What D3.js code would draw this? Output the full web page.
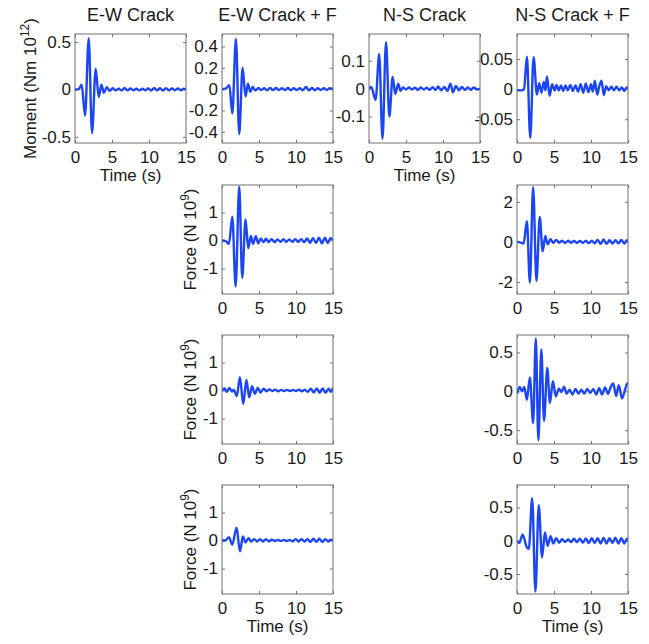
<!DOCTYPE html>
<html>
<head>
<meta charset="utf-8">
<script src="https://cdn.jsdelivr.net/npm/d3@7"></script>
<style>
  body { margin: 0; background: #fff; }
  text { font-family: "Liberation Sans", Arial, sans-serif; fill: #1a1a1a; }
</style>
</head>
<body>
<div id="chart"></div>
<script>
// x axis is the same everywhere
var timeTicks = [0, 5, 10, 15];

// column titles (top row only)
var titles = ["E-W Crack", "E-W Crack + F", "N-S Crack", "N-S Crack + F"];

// y tick labels per panel
var ewMomentTicks = [-0.5, 0, 0.5];
var ewFMomentTicks = [-0.4, -0.2, 0, 0.2, 0.4];
var nsMomentTicks = [-0.1, 0, 0.1];
var nsFMomentTicks = [-0.05, 0, 0.05];
var ewForceTicks = [-1, 0, 1];
var nsForce1Ticks = [-2, 0, 2];
var nsForceTicks = [-0.5, 0, 0.5];

// y limits per panel
var ewMomentLim = [-0.565, 0.585];
var ewFMomentLim = [-0.505, 0.517];
var nsMomentLim = [-0.195, 0.196];
var nsFMomentLim = [-0.0895, 0.0916];
var ewForceLim = [-1.91, 1.98];
var nsForce1Lim = [-2.6, 2.84];
var nsForce2Lim = [-0.678, 0.725];
var nsForce3Lim = [-0.80, 0.838];

// traces: [time (s), value] read at the turning points
var ewMoment = [[0,0],[0.5,0.003],[0.9,0.05],[1.36,-0.275],[1.85,0.54],[2.3,-0.46],[2.8,0.22],[3.2,-0.08],[3.57,0.05],[3.9,-0.035],[4.3,0.025],[4.7,-0.015],[5.1,0.012],[5.5,-0.01],[5.9,0.008],[6.3,-0.01],[6.7,0.015],[7.1,-0.01],[7.5,0.01],[7.9,-0.008],[8.3,0.008],[8.7,-0.01],[9.1,0.008],[9.5,-0.008],[9.9,0.01],[10.3,-0.012],[10.7,0.015],[11.1,-0.01],[11.5,0.012],[11.9,-0.012],[12.3,0.014],[12.7,-0.01],[13.1,0.01],[13.5,-0.008],[13.9,0.01],[14.3,-0.008],[14.7,0.008],[15,0]];

var ewFMoment = [[0,0],[0.5,0.005],[1.0,0.037],[1.39,-0.23],[1.88,0.47],[2.33,-0.42],[2.78,0.2],[3.18,-0.07],[3.5,0.05],[3.82,-0.025],[4.15,0.02],[4.5,-0.012],[4.9,0.01],[5.3,-0.008],[5.7,0.008],[6.1,-0.01],[6.5,0.01],[6.9,-0.008],[7.3,0.01],[7.7,-0.008],[8.1,0.008],[8.5,-0.008],[8.9,0.01],[9.3,-0.01],[9.7,0.008],[10.1,-0.008],[10.5,0.008],[10.9,-0.01],[11.35,0.02],[11.75,-0.012],[12.15,0.01],[12.55,-0.01],[12.95,0.008],[13.35,-0.008],[13.75,0.008],[14.15,-0.008],[14.55,0.008],[15,0]];

var nsMoment = [[0,0],[0.3,0.006],[0.89,-0.04],[1.38,0.124],[1.82,-0.18],[2.3,0.167],[2.75,-0.1],[3.2,0.042],[3.55,-0.019],[3.95,0.018],[4.25,-0.008],[4.6,0.004],[5.0,-0.003],[5.4,0.004],[5.8,-0.003],[6.2,0.003],[6.6,-0.004],[7.0,0.004],[7.4,-0.003],[7.8,0.003],[8.2,-0.004],[8.6,0.005],[9.0,-0.005],[9.35,0.008],[9.75,-0.006],[10.2,0.006],[10.6,-0.008],[11.0,0.018],[11.35,-0.013],[11.75,0.01],[12.15,-0.006],[12.55,0.006],[12.95,-0.004],[13.35,0.004],[13.75,-0.004],[14.15,0.004],[14.6,-0.003],[15,0]];

var nsFMoment = [[0,-0.002],[0.6,-0.002],[0.95,0],[1.34,0.054],[1.79,-0.081],[2.24,0.053],[2.69,-0.009],[3.0,0.01],[3.3,-0.006],[3.62,0.012],[3.85,-0.002],[4.05,0.021],[4.4,-0.011],[4.75,0.008],[5.1,-0.002],[5.35,0.007],[5.65,-0.002],[5.95,0.006],[6.25,-0.003],[6.55,0.006],[6.85,-0.002],[7.2,0.007],[7.55,-0.003],[7.9,0.006],[8.25,-0.004],[8.6,0.008],[8.95,-0.006],[9.3,0.009],[9.65,-0.005],[10.0,0.008],[10.25,-0.004],[10.52,0.014],[10.84,-0.009],[11.1,0.004],[11.42,0.014],[11.73,-0.01],[12.05,0.005],[12.4,-0.002],[12.75,0.004],[13.1,-0.002],[13.45,0.004],[13.8,-0.002],[14.15,0.003],[14.5,-0.003],[14.8,0.003],[15,0.001]];

var ewForce1 = [[0,0],[0.5,-0.02],[0.94,-0.12],[1.39,0.85],[1.84,-1.64],[2.33,1.92],[2.73,-1.33],[3.18,0.75],[3.54,-0.28],[3.9,0.16],[4.2,-0.12],[4.57,0.15],[4.9,-0.1],[5.25,0.07],[5.6,-0.06],[5.95,0.06],[6.3,-0.06],[6.7,0.05],[7.1,-0.06],[7.5,0.04],[7.9,-0.05],[8.3,0.05],[8.7,-0.05],[9.1,0.04],[9.5,-0.05],[9.9,0.05],[10.3,-0.05],[10.7,0.05],[11.1,-0.06],[11.5,0.07],[11.9,-0.08],[12.3,0.08],[12.7,-0.09],[13.1,0.1],[13.5,-0.1],[13.9,0.1],[14.3,-0.09],[14.65,0.08],[15,0.02]];

var nsForce1 = [[0,0],[0.4,-0.02],[0.89,-0.08],[1.34,1.03],[1.74,-2.03],[2.18,2.73],[2.63,-1.95],[3.07,1.24],[3.47,-0.46],[3.83,0.3],[4.14,-0.12],[4.54,0.14],[4.9,-0.05],[5.3,0.1],[5.7,-0.04],[6.1,0.06],[6.5,-0.05],[6.9,0.06],[7.3,-0.04],[7.7,0.05],[8.1,-0.05],[8.5,0.05],[8.9,-0.05],[9.3,0.06],[9.7,-0.06],[10.1,0.06],[10.5,-0.07],[10.9,0.1],[11.3,-0.1],[11.7,0.12],[12.1,-0.1],[12.5,0.08],[12.9,-0.08],[13.3,0.08],[13.7,-0.07],[14.1,0.1],[14.5,-0.08],[14.85,0.08],[15,0.04]];

var ewForce2 = [[0,0],[0.36,0.07],[0.67,-0.05],[0.99,0.09],[1.35,-0.04],[1.6,0.02],[2.0,-0.2],[2.42,0.47],[2.87,-0.48],[3.3,0.38],[3.67,-0.24],[4.07,0.15],[4.43,-0.12],[4.84,0.09],[5.2,-0.07],[5.64,0.06],[6.0,-0.03],[6.4,0.04],[6.8,-0.02],[7.2,0.03],[7.6,-0.03],[8.0,0.02],[8.4,-0.02],[8.8,0.02],[9.2,-0.02],[9.6,0.02],[10.0,-0.02],[10.4,0.03],[10.8,-0.03],[11.2,0.03],[11.6,-0.05],[12.0,0.06],[12.4,-0.07],[12.8,0.07],[13.2,-0.08],[13.6,0.07],[14.0,-0.08],[14.4,0.06],[14.7,-0.05],[15,0.1]];

var nsForce2 = [[0,-0.03],[0.36,0.056],[0.68,0],[0.98,0.056],[1.34,-0.11],[1.74,0.18],[2.18,-0.41],[2.54,0.68],[2.89,-0.63],[3.29,0.54],[3.65,-0.38],[4.09,0.3],[4.45,-0.15],[4.85,0.13],[5.25,-0.065],[5.65,0.035],[6.0,-0.01],[6.35,0.06],[6.7,-0.03],[7.1,0.02],[7.5,-0.04],[7.9,0.03],[8.3,-0.03],[8.7,0.02],[9.1,-0.03],[9.5,0.03],[9.9,-0.02],[10.3,0.03],[10.7,-0.04],[11.1,0.04],[11.5,-0.04],[11.9,0.05],[12.3,-0.03],[12.6,0.04],[13.0,0.1],[13.4,-0.06],[13.75,0.08],[14.2,-0.09],[14.6,0.02],[14.9,0.1],[15,0.09]];

var ewForce3 = [[0,0],[0.5,0.01],[0.94,0.12],[1.39,-0.15],[1.97,0.46],[2.42,-0.39],[2.82,0.14],[3.18,-0.07],[3.58,0.08],[3.95,-0.04],[4.35,0.05],[4.75,-0.04],[5.15,0.05],[5.55,-0.04],[5.95,0.05],[6.35,-0.03],[6.75,0.03],[7.15,-0.02],[7.55,0.02],[7.95,-0.02],[8.35,0.02],[8.75,-0.02],[9.15,0.02],[9.55,-0.03],[9.95,0.05],[10.35,-0.04],[10.75,0.05],[11.15,-0.04],[11.55,0.05],[11.95,-0.05],[12.35,0.06],[12.75,-0.05],[13.15,0.06],[13.55,-0.05],[13.95,0.05],[14.35,-0.04],[14.7,0.03],[15,0]];

var nsForce3 = [[0,0],[0.3,-0.035],[0.76,0.09],[1.3,-0.09],[1.6,-0.12],[2.05,0.64],[2.49,-0.765],[2.94,0.535],[3.38,-0.25],[3.78,0.125],[4.14,-0.075],[4.54,0.07],[4.9,-0.04],[5.3,0.04],[5.7,-0.03],[6.1,0.025],[6.5,-0.02],[6.9,0.02],[7.3,-0.02],[7.7,0.03],[8.1,-0.02],[8.5,0.03],[8.9,-0.03],[9.3,0.035],[9.7,-0.035],[10.1,0.04],[10.5,-0.035],[10.9,0.04],[11.3,-0.04],[11.7,0.045],[12.1,-0.04],[12.5,0.04],[12.9,-0.035],[13.3,0.045],[13.7,-0.04],[14.1,0.04],[14.5,-0.04],[14.85,0.03],[15,0]];

// panel grid
var colX = [75, 222, 369, 517],
    rowY = [34, 185, 335, 485],
    pw = 111, ph = 109;

var panels = [
  {col: 0, row: 0, data: ewMoment,  lim: ewMomentLim,  ticks: ewMomentTicks,  title: true, time: true, ylab: "moment"},
  {col: 1, row: 0, data: ewFMoment, lim: ewFMomentLim, ticks: ewFMomentTicks, title: true},
  {col: 2, row: 0, data: nsMoment,  lim: nsMomentLim,  ticks: nsMomentTicks,  title: true, time: true},
  {col: 3, row: 0, data: nsFMoment, lim: nsFMomentLim, ticks: nsFMomentTicks, title: true},
  {col: 1, row: 1, data: ewForce1, lim: ewForceLim,  ticks: ewForceTicks,  ylab: "force"},
  {col: 3, row: 1, data: nsForce1, lim: nsForce1Lim, ticks: nsForce1Ticks},
  {col: 1, row: 2, data: ewForce2, lim: ewForceLim,  ticks: ewForceTicks,  ylab: "force"},
  {col: 3, row: 2, data: nsForce2, lim: nsForce2Lim, ticks: nsForceTicks},
  {col: 1, row: 3, data: ewForce3, lim: ewForceLim,  ticks: ewForceTicks,  time: true, ylab: "force"},
  {col: 3, row: 3, data: nsForce3, lim: nsForce3Lim, ticks: nsForceTicks,  time: true}
];

var svg = d3.select("#chart")
  .append("svg")
    .attr("width", 649)
    .attr("height", 644)
    .style("background", "#fff");

var frameColor = "#707070",
    lineColor = "#1c46f2";

panels.forEach(function(p, i) {
  var g = svg.append("g")
    .attr("transform", "translate(" + colX[p.col] + "," + rowY[p.row] + ")");

  var x = d3.scaleLinear().domain([0, 15]).range([0, pw]);
  var y = d3.scaleLinear().domain(p.lim).range([ph, 0]);

  g.append("clipPath").attr("id", "clip" + i)
    .append("rect").attr("width", pw).attr("height", ph);

  // inward ticks on all four sides, labels on bottom and left
  var fmt = function(d) { return String(d); };
  g.append("g").attr("class", "ax")
    .attr("transform", "translate(0," + ph + ")")
    .call(d3.axisBottom(x).tickValues(timeTicks).tickFormat(fmt).tickSize(-3).tickPadding(8));
  g.append("g").attr("class", "ax")
    .call(d3.axisTop(x).tickValues(timeTicks).tickFormat("").tickSize(-3));
  g.append("g").attr("class", "ax")
    .call(d3.axisLeft(y).tickValues(p.ticks).tickFormat(fmt).tickSize(-3).tickPadding(4));
  g.append("g").attr("class", "ax")
    .attr("transform", "translate(" + pw + ",0)")
    .call(d3.axisRight(y).tickValues(p.ticks).tickFormat("").tickSize(-3));

  g.selectAll(".ax .domain").remove();
  g.selectAll(".ax line").attr("stroke", frameColor);
  g.selectAll(".ax text")
    .style("font-size", "17px")
    .attr("fill", "#1a1a1a");

  // trace
  var line = d3.line()
    .x(function(d) { return x(d[0]); })
    .y(function(d) { return y(d[1]); })
    .curve(d3.curveMonotoneX);
  g.append("path")
    .datum(p.data)
    .attr("clip-path", "url(#clip" + i + ")")
    .attr("fill", "none")
    .attr("stroke", lineColor)
    .attr("stroke-width", 2.4)
    .attr("stroke-linejoin", "round")
    .attr("d", line);

  // box
  g.append("rect")
    .attr("width", pw).attr("height", ph)
    .attr("fill", "none")
    .attr("stroke", frameColor)
    .attr("stroke-width", 1);

  if (p.title) {
    g.append("text")
      .attr("x", pw / 2).attr("y", -13)
      .attr("text-anchor", "middle")
      .style("font-size", "18px")
      .text(titles[p.col]);
  }
  if (p.time) {
    g.append("text")
      .attr("x", pw / 2).attr("y", ph + 38)
      .attr("text-anchor", "middle")
      .style("font-size", "17px")
      .text("Time (s)");
  }
  if (p.ylab) {
    var lab = g.append("text")
      .attr("transform", "translate(" + (p.ylab == "moment" ? -39 : -26) + "," + (ph / 2) + ")rotate(-90)")
      .attr("text-anchor", "middle")
      .style("font-size", "17px");
    if (p.ylab == "moment") {
      lab.append("tspan").text("Moment (Nm 10");
      lab.append("tspan").attr("dy", -7).style("font-size", "12px").text("12");
      lab.append("tspan").attr("dy", 7).text(")");
    } else {
      lab.append("tspan").text("Force (N 10");
      lab.append("tspan").attr("dy", -7).style("font-size", "12px").text("9");
      lab.append("tspan").attr("dy", 7).text(")");
    }
  }
});
</script>
</body>
</html>
